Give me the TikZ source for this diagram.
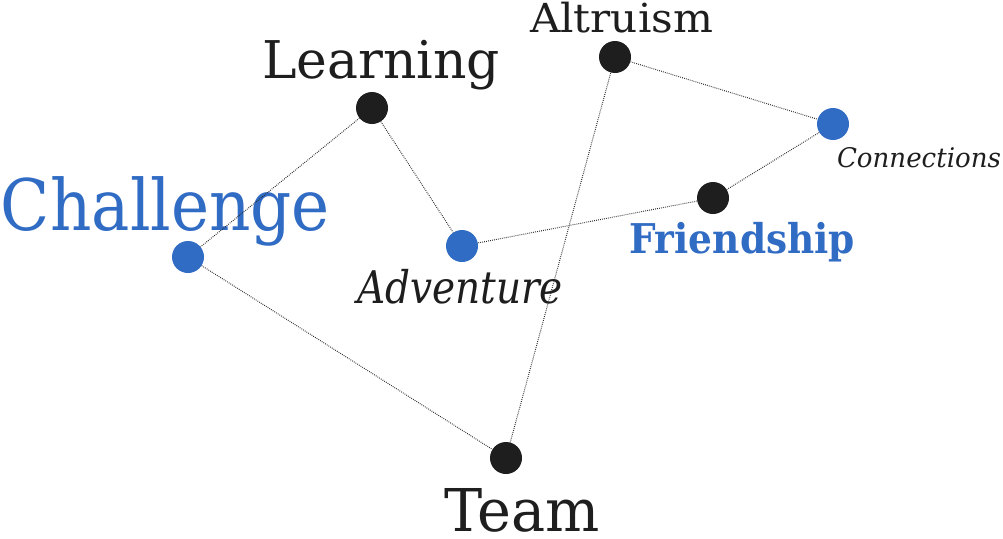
\documentclass[tikz,border=0pt]{standalone}
\usepackage{fontspec}
\setmainfont{DejaVu Serif}
\definecolor{dotblue}{HTML}{306BC4}
\definecolor{dotblack}{HTML}{1E1E1E}
\definecolor{linegray}{HTML}{2A2A2A}
\newcommand{\fitw}[3]{\resizebox{#1pt}{\height}{\fontsize{#2}{#2}\selectfont #3}}
\tikzset{
  dotb/.style={circle,fill=dotblack,minimum size=32pt,inner sep=0pt},
  dotc/.style={circle,fill=dotblue,minimum size=32pt,inner sep=0pt},
  lbl/.style={inner sep=0pt,outer sep=0pt,anchor=base west,text=dotblack},
  link/.style={draw=linegray,line width=1pt,dash pattern=on 0.8pt off 1.2pt}
}
\begin{document}
\begin{tikzpicture}[x=1pt,y=-1pt]
\useasboundingbox (0,0) rectangle (1003,538);
% dots
\node[dotb] (alt) at (615,57) {};
\node[dotb] (lea) at (372,108) {};
\node[dotc] (con) at (833,124) {};
\node[dotb] (fri) at (713,198) {};
\node[dotc] (cha) at (188,257) {};
\node[dotc] (adv) at (462,246) {};
\node[dotb] (tea) at (506,458) {};
% labels
\node[lbl] (altl) at (530,32) {\fitw{183}{40}{Altruism}};
\node[lbl] (leal) at (262,78) {\fitw{238}{52}{Learning}};
\node[lbl,text=dotblue] (chal) at (1,230) {\fitw{329}{71}{Challenge}};
\node[lbl] (conl) at (837,167) {\fitw{164}{27}{\itshape Connections}};
\node[lbl,text=dotblue] (fril) at (629,253) {\fitw{226}{41}{\bfseries Friendship}};
\node[lbl] (advl) at (357,303) {\fitw{206}{45}{\itshape Adventure}};
\node[lbl] (teal) at (444,531) {\fitw{156}{59}{Team}};
% links
\draw[link] (lea) -- (cha);
\draw[link] (lea) -- (adv);
\draw[link] (cha) -- (tea);
\draw[link] (tea) -- (alt);
\draw[link] (alt) -- (con);
\draw[link] (con) -- (fri);
\draw[link] (fri) -- (adv);
\end{tikzpicture}
\end{document}
